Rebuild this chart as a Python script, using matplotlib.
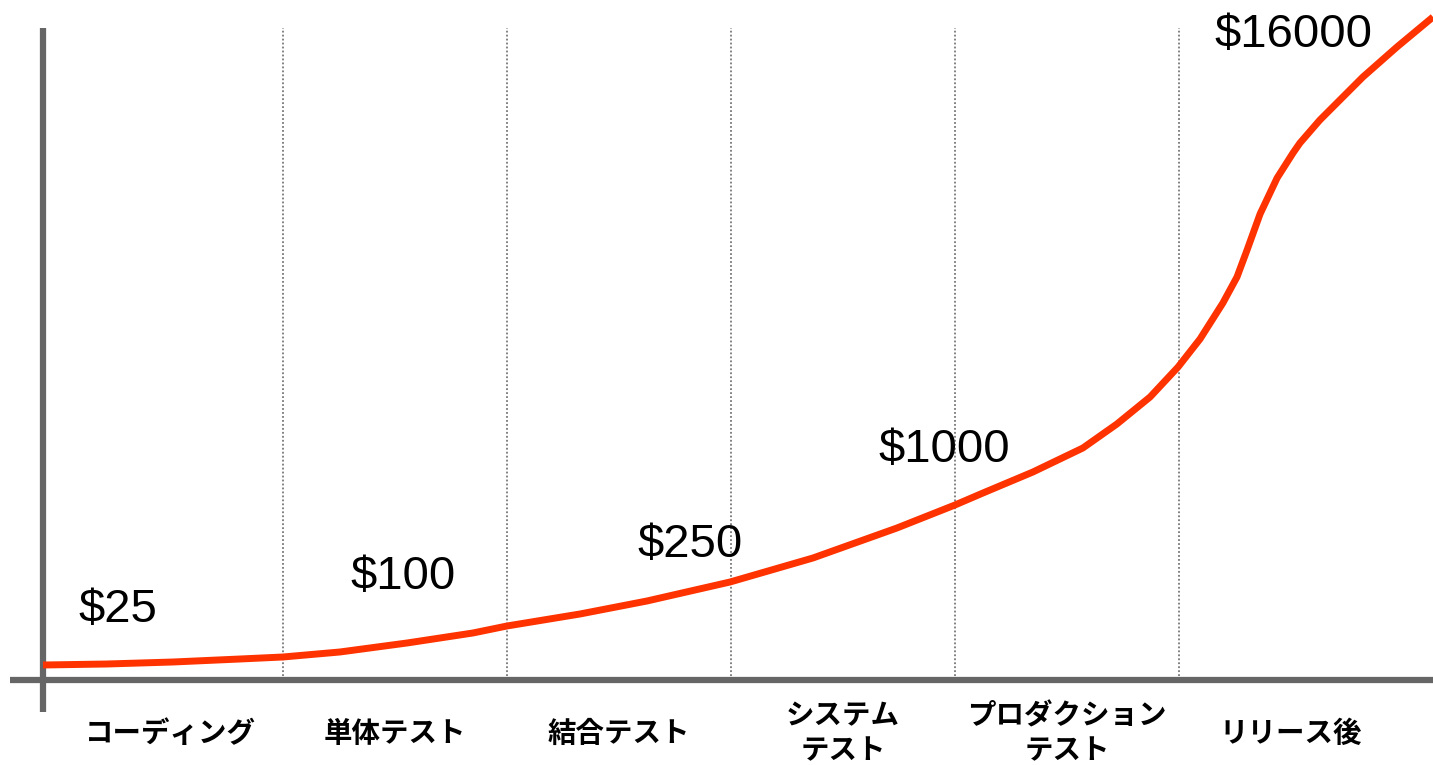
import numpy as np
import matplotlib.pyplot as plt

plt.rcParams['font.family'] = ['Liberation Sans', 'Noto Sans CJK JP', 'DejaVu Sans']

# 工程 (stage) と コスト
stages = ['コーディング', '単体テスト', '結合テスト', 'システム\nテスト', 'プロダクション\nテスト', 'リリース後']
costs = ['$25', '$100', '$250', '$1000', '$16000']

# コスト曲線 (横: 工程, 縦: 相対的な高さ) -- 図から読み取り
curve_x = [-0.071, 0.214, 0.509, 0.808, 1.0, 1.254, 1.554, 1.848, 2.0, 2.326,
           2.625, 2.996, 3.366, 3.741, 4.0, 4.125, 4.348, 4.571, 4.723, 4.871,
           4.996, 5.094, 5.196, 5.259, 5.304, 5.362, 5.438, 5.509, 5.540, 5.629,
           5.821, 5.973, 6.134]
curve_y = [15, 16, 18, 21, 23, 28, 37, 47, 54, 66,
           79, 98, 122, 152, 175, 187, 208, 232, 256, 283,
           313, 341, 377, 403, 430, 466, 502, 527, 537, 560,
           603, 633, 663]

# ラベル位置
cost_x = [0.263, 1.536, 2.817, 3.951, 5.509]
cost_y = [70, 103, 135, 230, 645]

fig = plt.figure(figsize=(14.33, 7.65), dpi=100)
ax = fig.add_axes([0, 0, 1, 1])
ax.set_xlim(-0.263, 6.134)
ax.set_ylim(-85, 680)
ax.axis('off')

# 区切り線
for b in range(1, 6):
    ax.plot([b, b], [0, 652], color='#777777', linestyle=(0, (1, 1.2)), linewidth=1.3, zorder=1)

# 軸
ax.plot([-0.219, 6.134], [0, 0], color='#666666', linewidth=4.5, solid_capstyle='butt', zorder=2)
ax.plot([-0.071, -0.071], [-32, 652], color='#666666', linewidth=4.5, solid_capstyle='butt', zorder=2)

# コスト曲線
ax.plot(curve_x, curve_y, color='#FF3300', linewidth=5, solid_joinstyle='round',
        solid_capstyle='butt', zorder=3)

for x, y, c in zip(cost_x, cost_y, costs):
    ax.text(x, y, c, fontsize=34, ha='center', va='center', color='black')

for i, s in enumerate(stages):
    ax.text(i + 0.5, -54, s, fontsize=20.5, fontweight='bold', ha='center', va='center',
            family=['Noto Sans CJK JP', 'DejaVu Sans'], linespacing=1.3)

fig.savefig('out.png', dpi=100)
